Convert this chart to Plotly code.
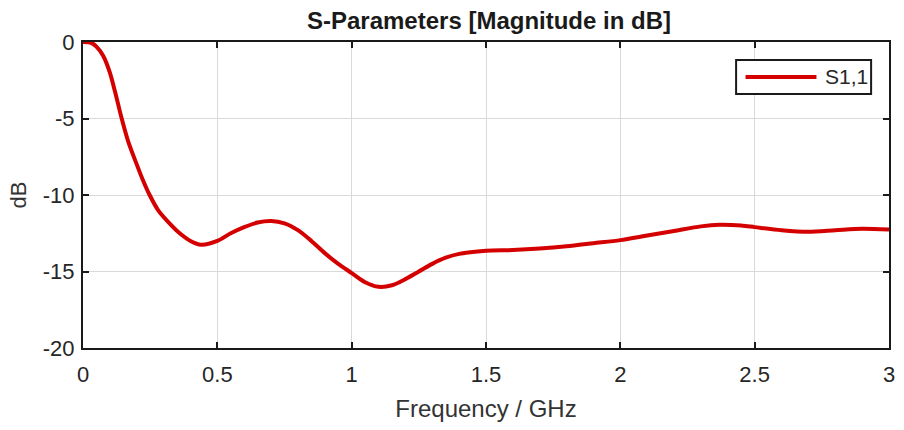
import plotly.graph_objects as go

freq_ghz = [0.0, 0.03, 0.05, 0.075, 0.10, 0.12, 0.144, 0.17, 0.20, 0.22, 0.248, 0.28, 0.322, 0.36, 0.40, 0.44,
            0.50, 0.55, 0.60, 0.65, 0.70, 0.75, 0.80, 0.85, 0.90, 0.95, 1.00, 1.05, 1.10, 1.15,
            1.20, 1.25, 1.30, 1.35, 1.40, 1.50, 1.60, 1.70, 1.80, 1.90, 2.00, 2.10, 2.20, 2.30,
            2.37, 2.45, 2.50, 2.60, 2.70, 2.80, 2.90, 3.00]
s11_db = [0.0, -0.05, -0.3, -0.9, -2.0, -3.3, -5.0, -6.6, -8.0, -8.9, -10.0, -11.0, -11.85, -12.5, -13.0, -13.25,
          -13.0, -12.5, -12.1, -11.8, -11.7, -11.85, -12.3, -13.0, -13.8, -14.5, -15.1, -15.7, -16.0, -15.9,
          -15.5, -15.0, -14.5, -14.1, -13.85, -13.65, -13.6, -13.5, -13.35, -13.15, -12.95, -12.65, -12.35, -12.05,
          -11.95, -12.0, -12.1, -12.3, -12.4, -12.3, -12.2, -12.25]

x_ticks = [0, 0.5, 1, 1.5, 2, 2.5, 3]
x_tick_labels = ["0", "0.5", "1", "1.5", "2", "2.5", "3"]
y_ticks = [0, -5, -10, -15, -20]
y_tick_labels = ["0", "-5", "-10", "-15", "-20"]
series_name = "S1,1"
line_color = "#d40000"

FONT = "Liberation Sans, Arial"

fig = go.Figure()
fig.add_trace(go.Scatter(
    x=freq_ghz, y=s11_db, mode="lines", name=series_name, showlegend=False,
    line=dict(color=line_color, width=4, shape="spline", smoothing=0.8),
))

axis_common = dict(
    showline=True, linecolor="#1a1a1a", linewidth=2, mirror="ticks",
    ticks="inside", ticklen=6, tickwidth=2, tickcolor="#1a1a1a",
    showgrid=True, gridcolor="#d9d9d9", gridwidth=1, zeroline=False,
    tickfont=dict(family=FONT, size=22, color="#262626"),
)

# legend box (drawn manually to match the long legend line of the original)
fig.add_shape(type="rect", xref="paper", yref="paper", x0=0.8103, x1=0.9778, y0=0.830, y1=0.941,
              line=dict(color="#1a1a1a", width=2), fillcolor="white", layer="above")
fig.add_shape(type="line", xref="paper", yref="paper", x0=0.822, x1=0.910, y0=0.886, y1=0.886,
              line=dict(color=line_color, width=4), layer="above")
fig.add_annotation(text=series_name, xref="paper", yref="paper", x=0.947, y=0.886,
                   xanchor="center", yanchor="middle", showarrow=False,
                   font=dict(family=FONT, size=21, color="#262626"))

fig.update_layout(
    width=904, height=430,
    margin=dict(l=83, r=9, t=42, b=82),
    paper_bgcolor="white", plot_bgcolor="white",
    title=dict(text="<b>S-Parameters [Magnitude in dB]</b>", x=(83 + 895) / 2 / 904, xanchor="center",
               y=1 - 21 / 430, yanchor="middle",
               font=dict(family=FONT, size=24, color="#1a1a1a")),
    xaxis=dict(range=[0, 3], tickvals=x_ticks, ticktext=x_tick_labels, ticklabelstandoff=6,
               title=dict(text="Frequency / GHz", standoff=14,
                          font=dict(family=FONT, size=24, color="#333333")),
               **axis_common),
    yaxis=dict(range=[-20, 0], tickvals=y_ticks, ticktext=y_tick_labels, ticklabelstandoff=2,
               title=dict(text="dB", standoff=10,
                          font=dict(family=FONT, size=22, color="#333333")),
               **axis_common),
    showlegend=False,
)

fig.write_html("out.html")
